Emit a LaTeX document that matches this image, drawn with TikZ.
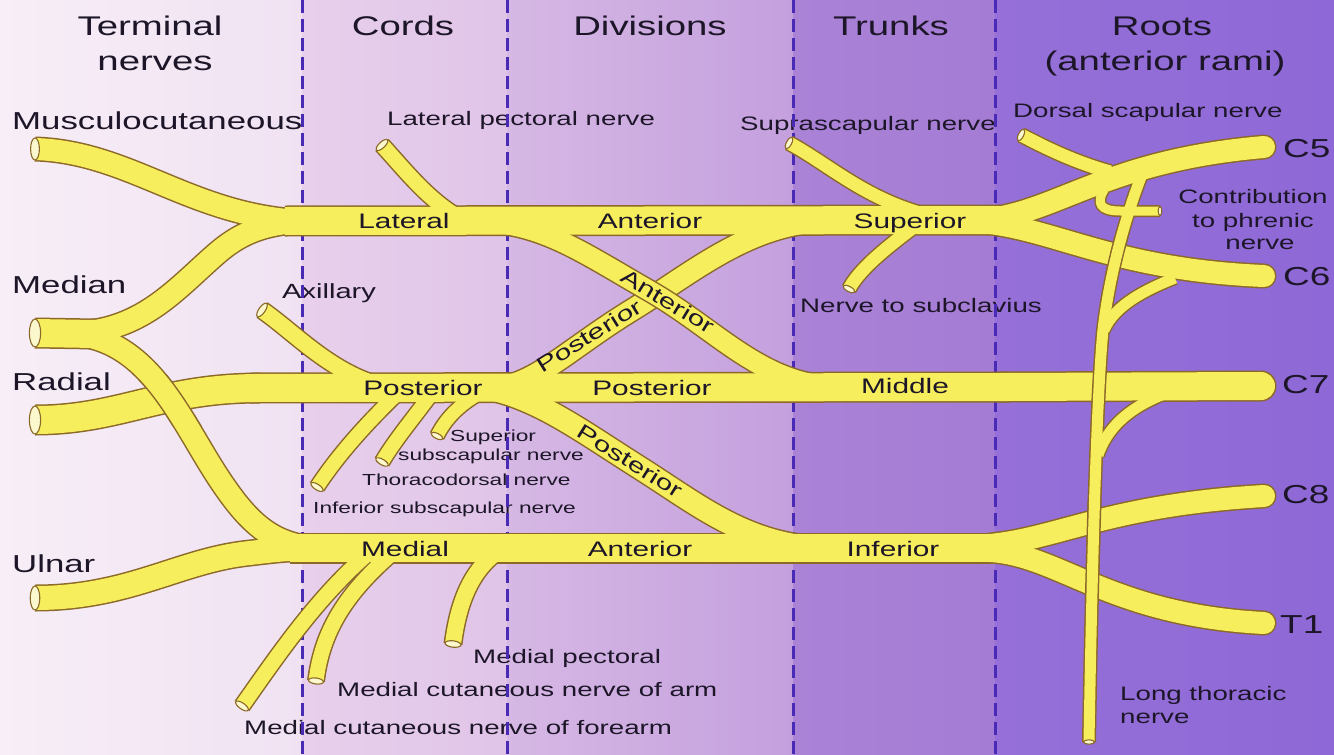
\documentclass[tikz,border=0pt]{standalone}
\usepackage{fontspec}
\setmainfont{Liberation Sans}[FakeStretch=1.42]
\definecolor{nyellow}{RGB}{246,238,92}
\definecolor{nbrown}{RGB}{140,105,40}
\definecolor{ncap}{RGB}{251,248,205}
\definecolor{dashc}{RGB}{72,42,180}
\definecolor{txt}{RGB}{28,22,40}
\definecolor{bgAa}{RGB}{247,238,247}
\definecolor{bgAb}{RGB}{240,226,242}
\definecolor{bgBa}{RGB}{232,208,236}
\definecolor{bgBb}{RGB}{224,196,232}
\definecolor{bgCa}{RGB}{214,184,228}
\definecolor{bgCb}{RGB}{196,160,222}
\definecolor{bgDa}{RGB}{170,130,214}
\definecolor{bgDb}{RGB}{164,124,212}
\definecolor{bgEa}{RGB}{150,112,216}
\definecolor{bgEb}{RGB}{142,104,214}
\tikzset{
  nout/.style={draw=nbrown, line width={(#1+3)*1pt}},
  nfill/.style={draw=nyellow, line width={#1*1pt}},
  capst/.style={fill=ncap, draw=nbrown, line width=1.1pt},
  lblhead/.style={inner sep=0pt, text=txt, font=\fontsize{27}{32}\selectfont, anchor=base},
  lblterm/.style={inner sep=0pt, text=txt, font=\fontsize{24.5}{28}\selectfont, anchor=base west},
  lblsmall/.style={inner sep=0pt, text=txt, font=\fontsize{19.5}{23}\selectfont, anchor=base west},
  lbltiny/.style={inner sep=0pt, text=txt, font=\fontsize{16}{19}\selectfont, anchor=base west},
  lblroot/.style={inner sep=0pt, text=txt, font=\fontsize{26}{30}\selectfont, anchor=base west},
  lblnerve/.style={inner sep=0pt, text=txt, font=\fontsize{21}{24}\selectfont, anchor=base},
  lbldiag/.style={inner sep=0pt, text=txt, font=\fontsize{21}{24}\selectfont, anchor=center},
  divline/.style={draw=dashc, line width=3pt, dash pattern=on 13pt off 6pt},
}
\newcommand\LTnerve[1]{\draw[#1] (1143,172) .. controls (1127,212) and (1110,270) .. (1103,330) .. controls (1097,390) and (1092,560) .. (1089,742);}
\newcommand\ANTdiv[1]{\draw[#1] (470,221) .. controls (540,222) and (575,248) .. (648,290) .. controls (718,330) and (762,386) .. (840,387);}
\newcommand\MEDlow[1]{\draw[#1] (70,334) .. controls (150,338) and (180,420) .. (220,480) .. controls (250,525) and (275,548) .. (325,548);}
\newcommand\cutcap[4]{\draw[capst, shift={(#1,#2)}, rotate=#3] (0,0) ellipse [x radius={#4*0.2}, y radius={#4*0.5}];}
\newcommand\NervePaths[1]{%
  % terminal nerves
  \draw[#1=22] (35,149) .. controls (130,152) and (190,215) .. (300,221);
  \draw[#1=28] (35,333) -- (95,334);
  \draw[#1=22] (70,333) .. controls (140,333) and (175,290) .. (215,255) .. controls (240,233) and (265,221) .. (320,221);
  \MEDlow{#1=22}
  \draw[#1=28] (35,420) .. controls (120,420) and (160,388) .. (260,388);
  \draw[#1=24] (35,598) .. controls (130,598) and (180,560) .. (250,553) .. controls (275,550) and (290,548) .. (325,548);
  % cords, divisions, trunks
  \draw[#1=28] (285,221) -- (1000,220);
  \draw[#1=28] (250,388) -- (1010,387);
  \draw[#1=28] (290,548) -- (1000,548);
  % cord branches
  \draw[#1=15] (382,145) .. controls (405,170) and (428,200) .. (460,218);
  \draw[#1=16] (262,310) .. controls (295,333) and (328,370) .. (378,385);
  \draw[#1=14] (398,393) .. controls (370,420) and (340,452) .. (317,487);
  \draw[#1=14] (432,393) .. controls (412,420) and (395,440) .. (382,462);
  \draw[#1=13] (482,392) .. controls (458,405) and (445,420) .. (437,436);
  \draw[#1=15] (242,706) .. controls (280,652) and (318,596) .. (372,550);
  \draw[#1=15] (316,681) .. controls (322,632) and (345,593) .. (396,550);
  \draw[#1=16] (453,644) .. controls (458,605) and (470,570) .. (500,550);
  % posterior divisions
  \draw[#1=21] (495,388) .. controls (535,385) and (570,348) .. (632,310) .. controls (694,272) and (750,222) .. (830,221);
  \draw[#1=22] (490,389) .. controls (540,400) and (580,430) .. (640,468) .. controls (700,506) and (750,548) .. (830,548);
  % trunk branches
  \draw[#1=13] (789,143) .. controls (830,165) and (868,202) .. (935,217);
  \draw[#1=13] (915,226) .. controls (890,245) and (860,268) .. (849,289);
  % roots
  \draw[#1=22, line cap=round] (990,219) .. controls (1060,210) and (1110,160) .. (1264,147);
  \draw[#1=22, line cap=round] (990,223) .. controls (1060,232) and (1120,270) .. (1264,276);
  \draw[#1=28, line cap=round] (1000,387) -- (1261,386);
  \draw[#1=22, line cap=round] (990,545) .. controls (1060,538) and (1110,505) .. (1264,496);
  \draw[#1=22, line cap=round] (990,551) .. controls (1060,555) and (1110,615) .. (1264,623);
  % root branches
  \draw[#1=13] (1021,135) .. controls (1050,150) and (1075,162) .. (1110,172);
  \draw[#1=9] (1104,190) .. controls (1096,203) and (1100,211) .. (1120,211) -- (1160,211);
  \LTnerve{#1=11}
  \draw[#1=11] (1175,278) .. controls (1145,290) and (1115,305) .. (1104,330);
  \draw[#1=11] (1175,390) .. controls (1140,402) and (1110,420) .. (1098,455);
}
\begin{document}
\begin{tikzpicture}[x=1pt,y=-1pt]
\useasboundingbox (0,0) rectangle (1334,755);
% background columns
\shade[left color=bgAa, right color=bgAb] (0,0) rectangle (302,755);
\shade[left color=bgBa, right color=bgBb] (302,0) rectangle (507,755);
\shade[left color=bgCa, right color=bgCb] (507,0) rectangle (793,755);
\shade[left color=bgDa, right color=bgDb] (793,0) rectangle (995,755);
\shade[left color=bgEa, right color=bgEb] (995,0) rectangle (1334,755);
% headings
\node[lblhead] (hTa) at (150,35) {Terminal};
\node[lblhead] (hTb) at (155,70) {nerves};
\node[lblhead] (hC) at (403,35) {Cords};
\node[lblhead] (hD) at (650,35) {Divisions};
\node[lblhead] (hT) at (891,35) {Trunks};
\node[lblhead] (hRa) at (1162,35) {Roots};
\node[lblhead] (hRb) at (1165,70) {(anterior rami)};
% terminal nerve names
\node[lblterm] (tMc) at (12,129) {Musculocutaneous};
\node[lblterm] (tMe) at (12,293) {Median};
\node[lblterm] (tRa) at (12,390) {Radial};
\node[lblterm] (tUl) at (12,572) {Ulnar};
% branch labels
\node[lblsmall] (bLP) at (387,125) {Lateral pectoral nerve};
\node[lblsmall] (bSS) at (740,130) {Suprascapular nerve};
\node[lblsmall] (bDS) at (1013,117) {Dorsal scapular nerve};
\node[lblsmall] (bNS) at (800,312) {Nerve to subclavius};
\node[inner sep=0pt, text=txt, font=\fontsize{20.5}{24}\selectfont, anchor=base west] (bAx) at (282,298) {Axillary};
\node[lbltiny] (bSup) at (450,441) {Superior};
\node[lbltiny] (bSub) at (398,460) {subscapular nerve};
\node[lbltiny] (bTD) at (362,485) {Thoracodorsal nerve};
\node[lbltiny] (bIS) at (313,513) {Inferior subscapular nerve};
\node[lblsmall] (bMP) at (473,663) {Medial pectoral};
\node[lblsmall] (bMA) at (337,696) {Medial cutaneous nerve of arm};
\node[lblsmall] (bMF) at (244,734) {Medial cutaneous nerve of forearm};
\node[lblsmall] (bLTa) at (1120,700) {Long thoracic};
\node[lblsmall] (bLTb) at (1120,723) {nerve};
\node[lblsmall, anchor=base] (bPa) at (1253,203) {Contribution};
\node[lblsmall, anchor=base] (bPb) at (1253,227) {to phrenic};
\node[lblsmall, anchor=base] (bPc) at (1260,249) {nerve};
% root names
\node[lblroot] (rC5) at (1283,157) {C5};
\node[lblroot] (rC6) at (1283,285) {C6};
\node[lblroot] (rC7) at (1282,393) {C7};
\node[lblroot] (rC8) at (1282,503) {C8};
\node[lblroot] (rT1) at (1280,633) {T1};
% dashed column dividers
\foreach \xx in {302,507,793,995} \draw[divline] (\xx,0) -- (\xx,755);
% nerves: outlines then fills
\NervePaths{nout}
\NervePaths{nfill}
% median (medial root) passing over the radial nerve
\begin{scope}
  \clip (125,374) rectangle (215,426);
  \MEDlow{nout=22}
  \MEDlow{nfill=22}
\end{scope}
% anterior division of middle trunk, drawn over the crossing
\begin{scope}
  \clip (440,236.5) rectangle (880,372.5);
  \ANTdiv{nout=20}
\end{scope}
\ANTdiv{nfill=20}
% long thoracic passing over C6, C7, C8, T1
\foreach \ya/\yb in {236/272, 368/404, 500/602} {
  \begin{scope}
    \clip (1080,\ya) rectangle (1145,\yb);
    \LTnerve{nout=11}
    \LTnerve{nfill=11}
  \end{scope}
}
% cut ends
\cutcap{35}{149}{0}{22}
\cutcap{35}{333}{0}{28}
\cutcap{35}{420}{0}{28}
\cutcap{35}{598}{0}{24}
\cutcap{382}{145}{133}{15}
\cutcap{262}{310}{145}{16}
\cutcap{317}{487}{-123}{14}
\cutcap{382}{462}{-120}{14}
\cutcap{437}{436}{-117}{13}
\cutcap{242}{706}{-125}{15}
\cutcap{316}{681}{-97}{15}
\cutcap{453}{644}{-97}{16}
\cutcap{789}{143}{152}{13}
\cutcap{849}{289}{-118}{13}
\cutcap{1021}{135}{153}{13}
\cutcap{1160}{211}{0}{9}
\cutcap{1089}{742}{-90}{11}
% labels on nerves
\node[lblnerve] (nLat) at (404,228.5) {Lateral};
\node[lblnerve] (nAnt1) at (650,228.5) {Anterior};
\node[lblnerve] (nSup) at (910,228.5) {Superior};
\node[lblnerve] (nPos1) at (423,395.5) {Posterior};
\node[lblnerve] (nPos2) at (652,395.5) {Posterior};
\node[lblnerve] (nMid) at (905,393) {Middle};
\node[lblnerve] (nMed) at (405,556) {Medial};
\node[lblnerve] (nAnt2) at (640,556) {Anterior};
\node[lblnerve] (nInf) at (893,556) {Inferior};
\node[lbldiag, rotate=32] (dPos1) at (589,336) {Posterior};
\node[lbldiag, rotate=-31] (dAnt) at (668,301) {Anterior};
\node[lbldiag, rotate=-32] (dPos2) at (630,461) {Posterior};
\end{tikzpicture}
\end{document}
